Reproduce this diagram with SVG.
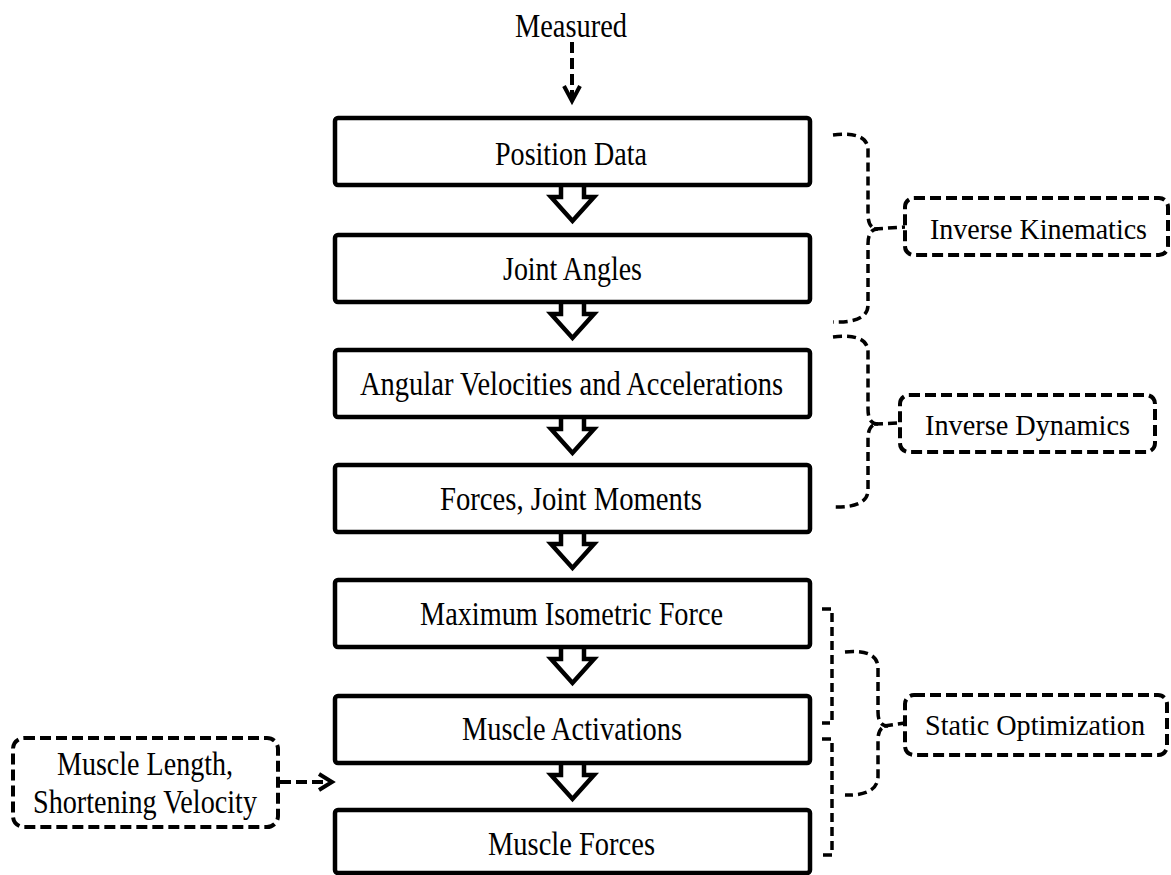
<svg xmlns="http://www.w3.org/2000/svg" width="1171" height="875" viewBox="0 0 1171 875">
<style>
.box{fill:#fff;stroke:#000;stroke-width:4.5}
.lbl{fill:#fff;stroke:#000;stroke-width:4;stroke-dasharray:11 5}
.t{font-family:"Liberation Serif","Times New Roman",serif;font-size:33px;fill:#000;text-anchor:middle}
.s{font-size:30px}
.blk{fill:#fff;stroke:#000;stroke-width:4.5;stroke-linejoin:miter}
.dash{fill:none;stroke:#000;stroke-width:4;stroke-dasharray:11 5}
.br{fill:none;stroke:#000;stroke-width:3.5;stroke-dasharray:9 5}
.head{fill:none;stroke:#000;stroke-width:4}
</style>
<rect width="1171" height="875" fill="#fff"/>
<g id="measured">
<text class="t" x="571" y="37" textLength="112" lengthAdjust="spacingAndGlyphs">Measured</text>
</g>
<g id="connectors">
<line class="dash" x1="572" y1="42" x2="572" y2="98"/>
<path class="head" d="M564,86 L572,101 L580,86"/>
<path class="blk" d="M561,185 V197 H551 L572.5,221 L594,197 H584 V185"/>
<path class="blk" d="M561,302 V314 H551 L572.5,338 L594,314 H584 V302"/>
<path class="blk" d="M561,417 V429 H551 L572.5,453 L594,429 H584 V417"/>
<path class="blk" d="M561,532 V544 H551 L572.5,568 L594,544 H584 V532"/>
<path class="blk" d="M561,647 V659 H551 L572.5,683 L594,659 H584 V647"/>
<path class="blk" d="M561,763 V775 H551 L572.5,799 L594,775 H584 V763"/>
<line class="dash" x1="280" y1="782" x2="324" y2="782"/>
<path class="head" d="M319,774 L332,782 L319,790"/>
<path class="br" d="M833,135 Q868,131 868,150 V214 Q868,229 878,229 Q868,229 868,244 V305 Q868,323 833,322"/>
<line class="br" x1="874" y1="229" x2="905" y2="227"/>
<path class="br" d="M833,337 Q868,333 868,352 V409 Q868,424 878,424 Q868,424 868,439 V490 Q868,508 833,507"/>
<line class="br" x1="874" y1="424" x2="900" y2="423"/>
<path class="br" d="M822,609 H832 V723 H822"/>
<path class="br" d="M822,739 H832 V855 H822"/>
<path class="br" d="M845,652 Q878,649 878,668 V712 Q878,726 888,726 Q878,726 878,740 V776 Q878,796 845,795"/>
<line class="br" x1="884" y1="726" x2="905" y2="723"/>
</g>
<g id="n1"><rect class="box" x="335" y="118" width="475" height="67" rx="3"/>
<text class="t" x="571" y="165" textLength="152" lengthAdjust="spacingAndGlyphs">Position Data</text></g>
<g id="n2"><rect class="box" x="335" y="235" width="475" height="67" rx="3"/>
<text class="t" x="572.5" y="280" textLength="139" lengthAdjust="spacingAndGlyphs">Joint Angles</text></g>
<g id="n3"><rect class="box" x="335" y="350" width="475" height="67" rx="3"/>
<text class="t" x="571.5" y="395" textLength="423" lengthAdjust="spacingAndGlyphs">Angular Velocities and Accelerations</text></g>
<g id="n4"><rect class="box" x="335" y="465" width="475" height="67" rx="3"/>
<text class="t" x="571" y="510" textLength="262" lengthAdjust="spacingAndGlyphs">Forces, Joint Moments</text></g>
<g id="n5"><rect class="box" x="335" y="580" width="475" height="67" rx="3"/>
<text class="t" x="571.5" y="625" textLength="303" lengthAdjust="spacingAndGlyphs">Maximum Isometric Force</text></g>
<g id="n6"><rect class="box" x="335" y="696" width="475" height="67" rx="3"/>
<text class="t" x="572" y="740" textLength="220" lengthAdjust="spacingAndGlyphs">Muscle Activations</text></g>
<g id="n7"><rect class="box" x="335" y="810" width="475" height="63" rx="3"/>
<text class="t" x="571.5" y="855" textLength="167" lengthAdjust="spacingAndGlyphs">Muscle Forces</text></g>
<g id="ik"><rect class="lbl" x="905" y="198" width="263" height="57" rx="9"/>
<text class="t s" x="1038.5" y="239" textLength="217" lengthAdjust="spacingAndGlyphs">Inverse Kinematics</text></g>
<g id="id"><rect class="lbl" x="900" y="395" width="255" height="57" rx="9"/>
<text class="t s" x="1027.5" y="435" textLength="205" lengthAdjust="spacingAndGlyphs">Inverse Dynamics</text></g>
<g id="so"><rect class="lbl" x="905" y="695" width="262" height="60" rx="9"/>
<text class="t s" x="1035" y="735" textLength="220" lengthAdjust="spacingAndGlyphs">Static Optimization</text></g>
<g id="ml"><rect class="lbl" x="13" y="738" width="265" height="89" rx="11"/>
<text class="t" x="145" y="775" textLength="176" lengthAdjust="spacingAndGlyphs">Muscle Length,</text>
<text class="t" x="145" y="813" textLength="224" lengthAdjust="spacingAndGlyphs">Shortening Velocity</text></g>
</svg>
